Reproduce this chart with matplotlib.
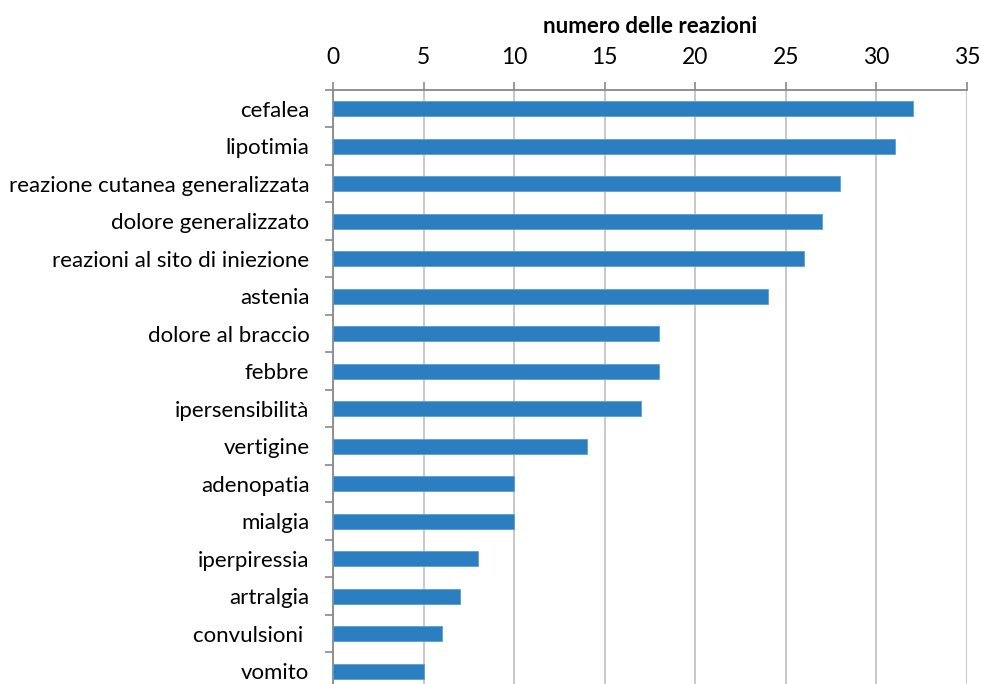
import matplotlib
matplotlib.use("Agg")
import matplotlib.pyplot as plt
from matplotlib.ticker import FixedLocator

plt.rcParams['font.family'] = ['Lato', 'DejaVu Sans']

reazioni = ["cefalea", "lipotimia", "reazione cutanea generalizzata",
            "dolore generalizzato", "reazioni al sito di iniezione", "astenia",
            "dolore al braccio", "febbre", "ipersensibilità", "vertigine",
            "adenopatia", "mialgia", "iperpiressia", "artralgia",
            "convulsioni ", "vomito"]
numero = [32, 31, 28, 27, 26, 24, 18, 18, 17, 14, 10, 10, 8, 7, 6, 5]
x_ticks = [0, 5, 10, 15, 20, 25, 30, 35]

fig = plt.figure(figsize=(9.81, 6.84), dpi=100)
ax = fig.add_axes([333 / 981, 0, (967 - 333) / 981, (684 - 90) / 684])

pos = list(range(len(reazioni)))
ax.barh(pos, numero, height=0.4, color="#2b7fc0", edgecolor="#5a9fd4",
        linewidth=0.6, zorder=3)

ax.set_xlim(0, 35)
ax.set_ylim(15.5 - 6 / 37.5, -0.5)
ax.xaxis.tick_top()
ax.xaxis.set_label_position("top")
ax.set_xticks(x_ticks)
ax.set_xticklabels([str(t) for t in x_ticks], fontsize=16.5)
ax.set_xlabel("numero delle reazioni", fontsize=16, fontweight="bold", labelpad=10)

ax.set_yticks(pos)
ax.set_yticklabels(reazioni, fontsize=16)
ax.yaxis.set_minor_locator(FixedLocator([p + 0.5 for p in range(-1, len(reazioni))]))
ax.tick_params(axis="y", which="major", length=0, pad=17)
ax.tick_params(axis="y", which="minor", length=6, width=1.2, color="#898989")
ax.tick_params(axis="x", length=6, width=1.2, color="#898989", pad=10)

ax.grid(axis="x", color="#c4c4c4", linewidth=1.3, zorder=0)
ax.set_axisbelow(True)
for s in ["right", "bottom"]:
    ax.spines[s].set_visible(False)
ax.spines["top"].set_color("#898989")
ax.spines["top"].set_linewidth(1.3)
ax.spines["left"].set_color("#898989")
ax.spines["left"].set_linewidth(1.3)

fig.savefig("out.png", dpi=100)
